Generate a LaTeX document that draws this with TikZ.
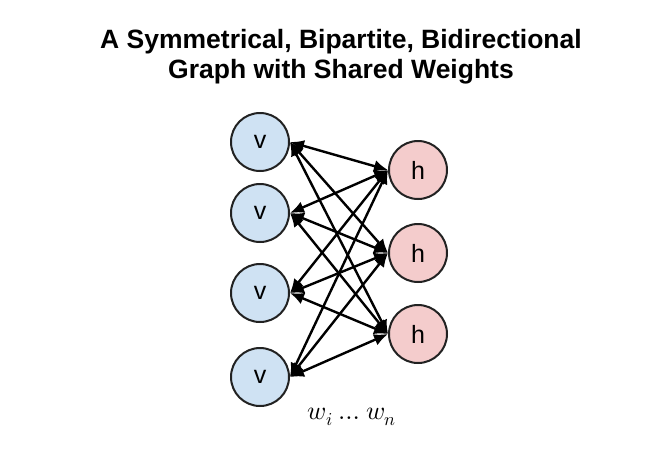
\documentclass[tikz,border=0pt]{standalone}
\usepackage{fontspec}
\setmainfont{Liberation Sans}
\usepackage{unicode-math}
\setmathfont{Latin Modern Math}
\usetikzlibrary{arrows.meta}
\definecolor{vfill}{HTML}{CFE2F3}
\definecolor{hfill}{HTML}{F4CCCC}
\definecolor{edge}{HTML}{222222}
\begin{document}
\begin{tikzpicture}[x=1pt,y=-1pt,
  unit/.style={circle,draw=edge,line width=2pt,minimum size=58pt,inner sep=0pt,font=\fontsize{25}{25}\selectfont},
  vunit/.style={unit,fill=vfill},
  hunit/.style={unit,fill=hfill},
  conn/.style={{Latex[length=14pt,width=12pt]}-{Latex[length=14pt,width=12pt]},line width=2.4pt,black}]
\useasboundingbox (0,0) rectangle (672,451);
\node[font=\bfseries\fontsize{26.5}{30}\selectfont,align=center] (title) at (341,57) {A Symmetrical, Bipartite, Bidirectional\\Graph with Shared Weights};
\node[vunit] (v1) at (260,142) {v};
\node[vunit] (v2) at (260,213) {v};
\node[vunit] (v3) at (260,293) {v};
\node[vunit] (v4) at (260,377) {v};
\node[hunit] (h1) at (418,170) {h};
\node[hunit] (h2) at (418,253) {h};
\node[hunit] (h3) at (418,334) {h};
\foreach \v in {v1,v2,v3,v4}{
  \foreach \h in {h1,h2,h3}{
    \draw[conn] (\v.east) -- (\h.west);
  }
}
\node[font=\fontsize{26}{26}\selectfont] (w) at (352,417) {$w_i \mathbin{\ldots} w_n$};
\end{tikzpicture}
\end{document}
